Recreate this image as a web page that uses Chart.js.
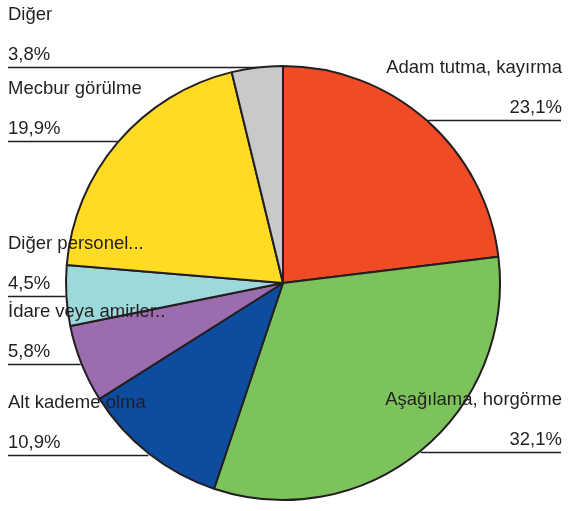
<!DOCTYPE html>
<html>
<head>
<meta charset="utf-8">
<script src="https://cdn.jsdelivr.net/npm/chart.js@4/dist/chart.umd.min.js"></script>
<style>
  html, body { margin: 0; padding: 0; background: #fff; }
  #wrap { width: 568px; height: 511px; }
</style>
</head>
<body>
<div id="wrap"><canvas id="grafik" width="568" height="511"></canvas></div>
<script>
const kategoriler = [
  "Adam tutma, kayırma",
  "Aşağılama, horgörme",
  "Alt kademe olma",
  "İdare veya amirler..",
  "Diğer personel...",
  "Mecbur görülme",
  "Diğer"
];
const yuzdeler = [23.1, 32.1, 10.9, 5.8, 4.5, 19.9, 3.8];
const renkler = ["#f04b24", "#7dc35b", "#0e4c9f", "#9b6cae", "#9dd8da", "#ffdb23", "#c8c9cb"];

const yaziRengi = "#231f20";

// etiketler: isim, yüzde ve dilimin ortasından çıkan yatay çizgi
const etiketEklentisi = {
  id: "etiketler",
  afterDatasetsDraw(chart) {
    const ctx = chart.ctx;
    const meta = chart.getDatasetMeta(0);
    ctx.save();
    ctx.font = "18.5px 'Liberation Sans', Arial, sans-serif";
    ctx.fillStyle = yaziRengi;
    ctx.strokeStyle = yaziRengi;
    ctx.lineWidth = 1.5;
    ctx.textBaseline = "alphabetic";
    meta.data.forEach((arc, i) => {
      const p = arc.getProps(["x", "y", "startAngle", "endAngle", "outerRadius"], true);
      const orta = (p.startAngle + p.endAngle) / 2;
      const r = p.outerRadius + 1;
      const px = p.x + Math.cos(orta) * r;
      const py = Math.round(p.y + Math.sin(orta) * r) + 0.5;
      const solda = px < p.x;
      const xKenar = solda ? 8 : 562;

      ctx.beginPath();
      ctx.moveTo(solda ? 8 : 561, py);
      ctx.lineTo(px, py);
      ctx.stroke();

      ctx.textAlign = solda ? "left" : "right";
      const yuzdeYazi = yuzdeler[i].toFixed(1).replace(".", ",") + "%";
      ctx.fillText(kategoriler[i], xKenar, py - 48);
      ctx.fillText(yuzdeYazi, xKenar, py - 8);
    });
    ctx.restore();
  }
};

new Chart(document.getElementById("grafik").getContext("2d"), {
  type: "pie",
  data: {
    labels: kategoriler,
    datasets: [{
      data: yuzdeler,
      backgroundColor: renkler,
      borderColor: yaziRengi,
      borderWidth: 2
    }]
  },
  options: {
    responsive: false,
    animation: false,
    layout: { padding: { top: 65, bottom: 10, left: 64, right: 66 } },
    plugins: {
      legend: { display: false },
      tooltip: { enabled: false }
    }
  },
  plugins: [etiketEklentisi]
});
</script>
</body>
</html>
